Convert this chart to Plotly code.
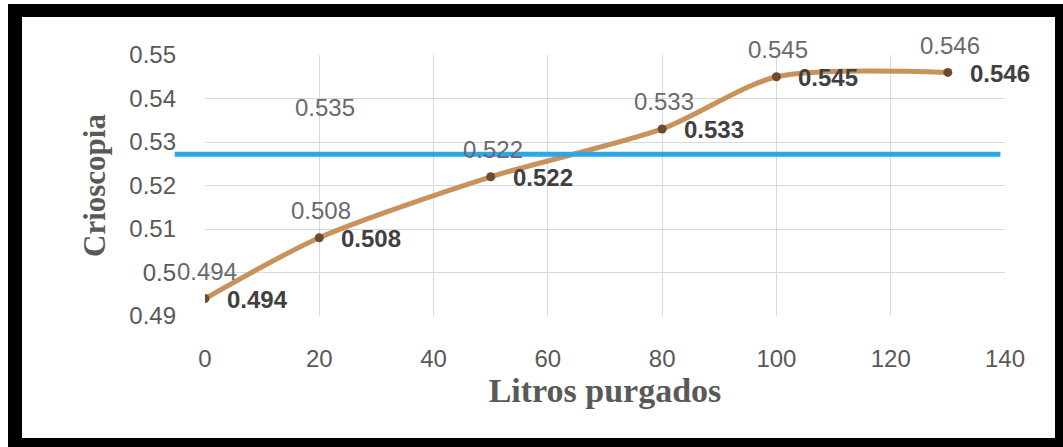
import plotly.graph_objects as go

# Data
litros = [0, 20, 50, 80, 100, 130]
crioscopia = [0.494, 0.508, 0.522, 0.533, 0.545, 0.546]
labels = ["0.494", "0.508", "0.522", "0.533", "0.545", "0.546"]

ref_level = 0.5272          # blue reference line
ref_x = [-5.3, 139.2]       # extent of the blue line (x units)
extra_label = "0.535"       # stray label in the upper left
extra_pos = (21, 0.538)

ytick_vals = [0.49, 0.50, 0.51, 0.52, 0.53, 0.54, 0.55]
ytick_text = ["0.49", "0.5", "0.51", "0.52", "0.53", "0.54", "0.55"]
xtick_vals = [0, 20, 40, 60, 80, 100, 120, 140]

W, H = 1063, 447
L, R, T, B = 205, 58, 55, 131
pw, ph = W - L - R, H - T - B


def px(x):
    return (x - L) / pw


def py(y):
    return (H - B - y) / ph


fig = go.Figure()
fig.add_trace(go.Scatter(
    x=litros, y=crioscopia, mode="lines+markers",
    line=dict(color="#C9925B", width=5, shape="spline", smoothing=0.75),
    marker=dict(color="#6E4B30", size=9),
    showlegend=False, hoverinfo="x+y"
))

annotations = []
for i, (xv, yv) in enumerate(zip(litros, crioscopia)):
    # label above the point
    annotations.append(dict(
        x=xv, y=yv, xref="x", yref="y", text=labels[i], showarrow=False,
        yshift=27, xshift=2,
        font=dict(family="Liberation Sans", size=24, color="#6A6A6A")
    ))
    # bold label to the right of the point
    annotations.append(dict(
        x=xv, y=yv, xref="x", yref="y", text="<b>" + labels[i] + "</b>",
        showarrow=False, xanchor="left", xshift=20, yshift=-1,
        font=dict(family="Liberation Sans", size=24, color="#404040")
    ))
annotations.append(dict(
    x=extra_pos[0], y=extra_pos[1], xref="x", yref="y", text=extra_label,
    showarrow=False, font=dict(family="Liberation Sans", size=24, color="#6A6A6A")
))

shapes = [
    # blue reference line
    dict(type="line", xref="paper", yref="y",
         x0=ref_x[0] / 140, x1=ref_x[1] / 140, y0=ref_level, y1=ref_level,
         line=dict(color="#2DA8E6", width=5), layer="above"),
    # black frame
    dict(type="rect", xref="paper", yref="paper", x0=px(8), x1=px(22), y0=py(447), y1=py(4),
         fillcolor="black", line_width=0),
    dict(type="rect", xref="paper", yref="paper", x0=px(8), x1=px(1063), y0=py(17), y1=py(4),
         fillcolor="black", line_width=0),
    dict(type="rect", xref="paper", yref="paper", x0=px(1055), x1=px(1063), y0=py(447), y1=py(4),
         fillcolor="black", line_width=0),
    dict(type="rect", xref="paper", yref="paper", x0=px(8), x1=px(1063), y0=py(447), y1=py(438),
         fillcolor="black", line_width=0),
]

fig.update_layout(
    width=W, height=H, margin=dict(l=L, r=R, t=T, b=B),
    paper_bgcolor="white", plot_bgcolor="white",
    font=dict(family="Liberation Sans", size=24, color="#595959"),
    annotations=annotations, shapes=shapes, showlegend=False
)
fig.update_xaxes(
    range=[0, 140], tickvals=xtick_vals, showgrid=True, gridcolor="#D9D9D9", gridwidth=1,
    zeroline=False, showline=False, ticks="", ticklabelstandoff=26,
    title=dict(text="<b>Litros purgados</b>", standoff=6,
               font=dict(family="Liberation Serif", size=34, color="#595959"))
)
fig.update_yaxes(
    range=[0.49, 0.55], tickvals=ytick_vals, ticktext=ytick_text, showgrid=True,
    gridcolor="#D9D9D9", gridwidth=1, zeroline=False, showline=False, ticks="",
    ticklabelstandoff=28,
    title=dict(text="<b>Crioscopia</b>", standoff=14,
               font=dict(family="Liberation Serif", size=31, color="#595959"))
)
fig.write_html("out.html", config={"displayModeBar": False},
               post_script="document.body.style.margin='0';")
